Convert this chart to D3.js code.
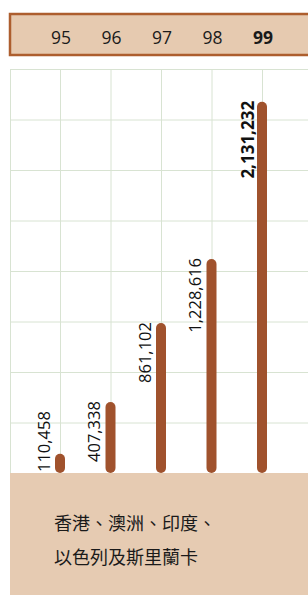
<!DOCTYPE html>
<html>
<head>
<meta charset="utf-8">
<script src="https://cdn.jsdelivr.net/npm/d3@7"></script>
<style>
  html, body { margin: 0; padding: 0; background: #fff; }
  svg { display: block; }
</style>
</head>
<body>
<svg id="chart" width="308" height="595"></svg>
<script>
const years = ["95", "96", "97", "98", "99"];
const values = [110458, 407338, 861102, 1228616, 2131232];
const highlightYear = "99";
const footerLines = ["香港、澳洲、印度、", "以色列及斯里蘭卡"];
const gridRows = [0, 1, 2, 3, 4, 5, 6, 7, 8];

const W = 308, H = 595;
const svg = d3.select("#chart");
const latin = "'Open Sans', 'Noto Sans', sans-serif";
const cjk = "'Noto Sans CJK TC', 'Noto Sans CJK SC', sans-serif";

const left = 10, plotTop = 69, base = 473;

const x = d3.scalePoint().domain(years).range([60, 262]);
const y = d3.scaleLinear().domain([0, 2320000]).range([base, plotTop]);

// header box
svg.append("rect")
  .attr("x", 10).attr("y", 14).attr("width", W + 10).attr("height", 41)
  .attr("fill", "#e6cab0").attr("stroke", "#ad5e2e").attr("stroke-width", 2.5);

svg.selectAll("text.year").data(years).join("text")
  .attr("class", "year")
  .attr("x", d => x(d) + 1).attr("y", 37)
  .attr("text-anchor", "middle").attr("dominant-baseline", "central")
  .attr("font-family", latin).attr("font-size", 17.5)
  .attr("font-weight", d => d === highlightYear ? 700 : 400)
  .attr("fill", "#1a1a1a")
  .text(d => d);

// grid
const step = x("96") - x("95");
const grid = svg.append("g").attr("stroke", "#d8e3d2").attr("stroke-width", 1);
const rowStep = (base - plotTop) / 8;
grid.selectAll("line.h").data(gridRows).join("line")
  .attr("x1", left).attr("x2", W)
  .attr("y1", d => plotTop + d * rowStep + 0.5).attr("y2", d => plotTop + d * rowStep + 0.5);
const cols = [left].concat(years.map(d => x(d)), [x("99") + step]);
grid.selectAll("line.v").data(cols).join("line")
  .attr("x1", d => d + 0.5).attr("x2", d => d + 0.5)
  .attr("y1", plotTop).attr("y2", base);

// bottom area
svg.append("rect")
  .attr("x", left).attr("y", base).attr("width", W - left).attr("height", H - base)
  .attr("fill", "#e6cbb2");

// bars with rounded caps
const barW = 10;
svg.selectAll("line.bar").data(values).join("line")
  .attr("class", "bar")
  .attr("x1", (d, i) => x(years[i])).attr("x2", (d, i) => x(years[i]))
  .attr("y1", base - barW / 2).attr("y2", d => y(d) + barW / 2)
  .attr("stroke", "#a0522d").attr("stroke-width", barW).attr("stroke-linecap", "round");

// value labels (rotated)
const fmt = d3.format(",");
svg.selectAll("text.val").data(values).join("text")
  .attr("class", "val")
  .attr("font-family", latin)
  .attr("font-size", (d, i) => years[i] === highlightYear ? 17 : 16.5)
  .attr("font-weight", (d, i) => years[i] === highlightYear ? 700 : 400)
  .attr("fill", "#111")
  .attr("text-anchor", "end")
  .attr("dominant-baseline", "central")
  .text(d => fmt(d))
  .each(function (d, i) {
    const len = this.getComputedTextLength();
    const top = Math.min(y(d) - 1, base - 1 - len);
    const cx = x(years[i]) - (years[i] === highlightYear ? 15 : 17);
    d3.select(this).attr("transform", `translate(${cx},${top}) rotate(-90)`);
  });

// footer text
svg.selectAll("text.foot").data(footerLines).join("text")
  .attr("class", "foot")
  .attr("x", 54).attr("y", (d, i) => 522 + i * 34)
  .attr("dominant-baseline", "central")
  .attr("font-family", cjk).attr("font-size", 18)
  .attr("fill", "#1a1a1a")
  .text(d => d);
</script>
</body>
</html>
